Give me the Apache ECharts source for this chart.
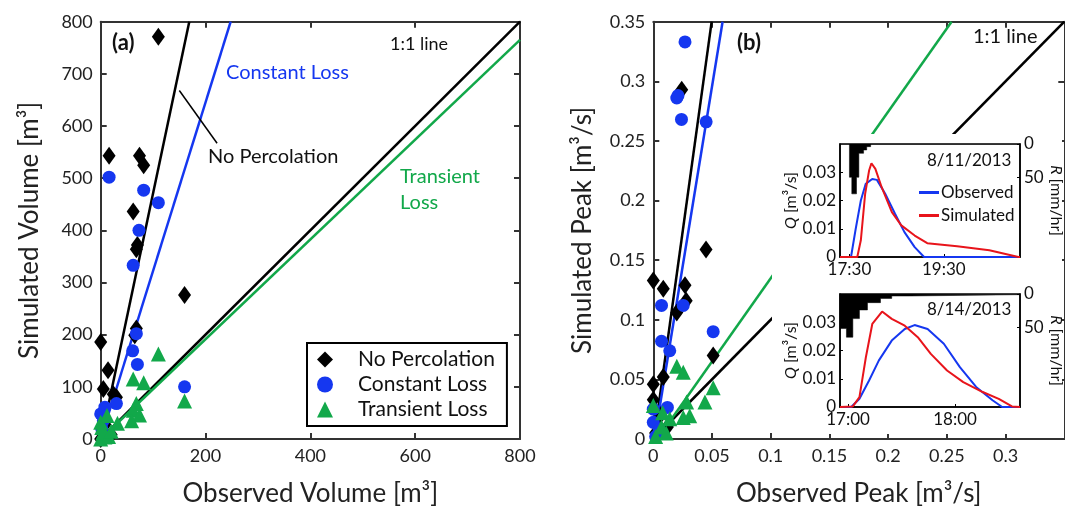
<!DOCTYPE html>
<html>
<head>
    <meta charset="utf-8">
    <title>Volume and peak</title>
    <script src="https://cdn.jsdelivr.net/npm/echarts@6/dist/echarts.min.js"></script>
</head>
<body style="margin:0">
    <div id="main" style="width:1065px;height:512px;"></div>
    <script type="text/javascript">
        // panel (a): observed vs simulated volume [m3]
        var volNoPerc = [[110,771],[16,543],[74,543],[82,525],[62,436],[68,364],[70,372],[160,276],[0,186],[65,199],[68,212],[14,132],[5,96],[24,86],[30,80],[0,0],[3,15],[8,28],[20,8]];
        var volConst = [[16,502],[82,477],[110,453],[73,400],[62,333],[68,202],[61,169],[70,143],[160,100],[30,68],[0,48],[8,61],[2,20],[8,8],[5,35]];
        var volTrans = [[110,163],[62,115],[82,108],[160,73],[68,68],[62,55],[74,46],[59,35],[32,30],[0,32],[12,45],[8,4],[0,0],[4,12],[15,5],[2,22],[20,15]];
        var volLineNoPerc = [[1,0],[169,800]];
        var volLineConst = [[0,0],[248,800]];
        var volLineTrans = [[0,0],[800,765]];
        var volOneToOne = [[0,0],[800,800]];
        var volLeader = [[150,668],[222,567]];

        // panel (b): observed vs simulated peak [m3/s]
        var pkNoPerc = [[0.0242,0.293],[0.0449,0.159],[0,0.133],[0.0085,0.126],[0.027,0.129],[0.028,0.116],[0.02,0.106],[0.051,0.07],[0,0.046],[0.0085,0.052],[0,0.033],[0.002,0.005],[0.006,0.02],[0.012,0.01]];
        var pkConst = [[0.027,0.333],[0.02,0.286],[0.021,0.288],[0.024,0.268],[0.045,0.266],[0.007,0.112],[0.0255,0.112],[0.051,0.09],[0.007,0.082],[0.014,0.074],[0.012,0.0265],[0,0.025],[0,0.014],[0.005,0.008],[0.002,0.002]];
        var pkTrans = [[0.02,0.061],[0.0255,0.056],[0.0284,0.031],[0.051,0.043],[0.044,0.031],[0.031,0.0195],[0.0255,0.018],[0,0.028],[0.008,0.022],[0.014,0.017],[0.007,0.01],[0.011,0.005],[0.002,0.002]];
        var pkLineNoPerc = [[0.0006,0],[0.0497,0.35]];
        var pkLineConst = [[0.001,0],[0.059,0.35]];
        var pkLineTrans = [[0.0035,0],[0.254,0.35]];
        var pkOneToOne = [[0,0],[0.35,0.35]];

        // insets: time in minutes after midnight, Q [m3/s], R [mm/hr]
        var ev1Obs = [[1038,0],[1052,0],[1058,0.010],[1064.5,0.020],[1070.7,0.0259],[1079,0.0276],[1085,0.0273],[1095.5,0.0224],[1108,0.0153],[1120,0.0088],[1133,0.0035],[1145,0],[1267,0]];
        var ev1Sim = [[1038,0],[1060,0],[1064.5,0.0059],[1070,0.0224],[1075,0.0306],[1078,0.0332],[1083,0.0312],[1091,0.0247],[1104,0.0159],[1116,0.0112],[1133,0.0076],[1149,0.0049],[1187,0.0038],[1228,0.0024],[1265,0],[1267,0]];
        var ev1Rain = [[1038,0],[1050,50],[1053,75],[1059,50],[1062,14],[1068,9],[1072,4],[1077,0],[1267,0]];
        var ev1Ticks = [1050, 1170];

        var ev2Obs = [[1015.5,0],[1021.8,0],[1026.4,0.0029],[1031.8,0.0094],[1037.3,0.0165],[1044.5,0.0235],[1051.8,0.0276],[1057.3,0.029],[1064.6,0.0276],[1073.7,0.0224],[1082.7,0.0141],[1091.8,0.0071],[1101,0.0024],[1106.4,0],[1116.4,0]];
        var ev2Sim = [[1015.5,0],[1022.7,0.0002],[1026.4,0.0035],[1030,0.0176],[1033.6,0.0294],[1039.1,0.0338],[1044.5,0.0312],[1051.8,0.0288],[1059.1,0.0247],[1066.4,0.0188],[1075.5,0.0129],[1084.6,0.0088],[1095.5,0.0053],[1104.5,0.0029],[1111.9,0.0002],[1116.4,0]];
        var ev2Rain = [[1015.5,52],[1019.1,65],[1022.7,37],[1026.4,24],[1030.9,13],[1038.2,6.6],[1044.5,3],[1054.6,1],[1116.4,1]];
        var ev2Ticks = [1020, 1080];

        var BLACK = '#000', BLUE = '#1537f0', GREEN = '#12a84a', RED = '#e8141b';
        var FONT = 'Lato';
        var myChart = echarts.init(document.getElementById('main'));

        function hhmm(v) {
            var h = Math.floor(v / 60), m = Math.round(v % 60);
            return h + ':' + (m < 10 ? '0' : '') + m;
        }

        function mainAxis(o) {
            return Object.assign({
                type: 'value',
                axisLine: {onZero: false, lineStyle: {color: '#333', width: 2}},
                axisTick: {inside: true, length: 6, lineStyle: {color: '#333', width: 2}},
                axisLabel: {fontFamily: FONT, fontSize: 18, color: '#222', margin: 8},
                splitLine: {show: false},
                nameTextStyle: {fontFamily: FONT, fontSize: 26, color: '#222'},
                nameLocation: 'middle'
            }, o);
        }
        function boxAxis(o) {
            return Object.assign(mainAxis(o), {axisLabel: {show: false}});
        }
        function insetAxis(o) {
            return Object.assign({
                type: 'value', z: 6,
                axisLine: {onZero: false, lineStyle: {color: '#000', width: 1.5}},
                axisTick: {inside: true, length: 3, lineStyle: {color: '#000'}},
                axisLabel: {fontFamily: FONT, fontSize: 17, color: '#111', margin: 4},
                splitLine: {show: false},
                nameLocation: 'middle',
                nameTextStyle: {fontFamily: FONT, fontSize: 16, color: '#111', rich: {i: {fontFamily: FONT, fontSize: 16, fontStyle: 'italic'}}}
            }, o);
        }
        function scatter(name, data, symbol, size, color, xi, yi) {
            return {type: 'scatter', name: name, data: data, symbol: symbol, symbolSize: size,
                itemStyle: {color: color, opacity: 1}, xAxisIndex: xi, yAxisIndex: yi, z: 3, silent: true};
        }
        function fit(data, color, xi, yi, w) {
            return {type: 'line', data: data, symbol: 'none', lineStyle: {color: color, width: w || 2.5},
                xAxisIndex: xi, yAxisIndex: yi, z: 2, silent: true, clip: true};
        }
        function flow(name, data, color, xi, yi) {
            return {type: 'line', name: name, data: data, symbol: 'none', lineStyle: {color: color, width: 2},
                itemStyle: {color: color}, xAxisIndex: xi, yAxisIndex: yi, z: 8, silent: true};
        }
        function rain(data, xi, yi) {
            return {type: 'line', data: data, step: 'end', symbol: 'none', lineStyle: {color: '#000', width: 0.5},
                areaStyle: {color: '#000', opacity: 1, origin: 'start'}, xAxisIndex: xi, yAxisIndex: yi, z: 7, silent: true};
        }
        function txt(x, y, s, size, color, weight) {
            return {type: 'text', left: x, top: y, z: 20,
                style: {text: s, fontFamily: FONT, fontSize: size, fill: color || '#111', fontWeight: weight || 'normal'}};
        }

        var option = {
            animation: false,
            backgroundColor: '#fff',
            grid: [
                {left: 100.7, top: 21.7, width: 419.3, height: 418.3},
                {left: 653.3, top: 21.7, width: 411, height: 418.3},
                {left: 840, top: 144, width: 185, height: 113, z: 5, show: true, backgroundColor: '#fff', borderColor: '#000', borderWidth: 1.5},
                {left: 840, top: 294, width: 185, height: 113, z: 5, show: true, backgroundColor: '#fff', borderColor: '#000', borderWidth: 1.5}
            ],
            xAxis: [
                mainAxis({gridIndex: 0, min: 0, max: 800, interval: 200, name: 'Observed Volume [m³]', nameGap: 42}),
                boxAxis({gridIndex: 0, position: 'top', min: 0, max: 800, interval: 200}),
                mainAxis({gridIndex: 1, min: 0, max: 0.35, interval: 0.05, name: 'Observed Peak [m³/s]', nameGap: 42,
                    axisLabel: {fontFamily: FONT, fontSize: 18, color: '#222', margin: 8, showMaxLabel: false}}),
                boxAxis({gridIndex: 1, position: 'top', min: 0, max: 0.35, interval: 0.05}),
                insetAxis({gridIndex: 2, min: 1038, max: 1267,
                    axisLabel: {fontFamily: FONT, fontSize: 17, color: '#111', margin: 4, customValues: ev1Ticks, formatter: hhmm},
                    axisTick: {inside: true, length: 3, customValues: ev1Ticks}}),
                insetAxis({gridIndex: 3, min: 1015.5, max: 1116.4,
                    axisLabel: {fontFamily: FONT, fontSize: 17, color: '#111', margin: 4, customValues: ev2Ticks, formatter: hhmm},
                    axisTick: {inside: true, length: 3, customValues: ev2Ticks}})
            ],
            yAxis: [
                mainAxis({gridIndex: 0, min: 0, max: 800, interval: 100, name: 'Simulated Volume [m³]', nameGap: 58}),
                boxAxis({gridIndex: 0, position: 'right', min: 0, max: 800, interval: 100}),
                mainAxis({gridIndex: 1, min: 0, max: 0.35, interval: 0.05, name: 'Simulated Peak [m³/s]', nameGap: 58}),
                boxAxis({gridIndex: 1, position: 'right', min: 0, max: 0.35, interval: 0.05}),
                insetAxis({gridIndex: 2, min: 0, max: 0.04, interval: 0.01, name: '{i|Q} [m³/s]', nameGap: 40,
                    axisLabel: {fontFamily: FONT, fontSize: 17, color: '#111', margin: 4, showMaxLabel: false}}),
                insetAxis({gridIndex: 2, position: 'right', inverse: true, min: 0, max: 170, name: '{i|R} [mm/hr]', nameGap: 28, nameRotate: -90,
                    axisLabel: {fontFamily: FONT, fontSize: 17, color: '#111', margin: 4, customValues: [0, 50]},
                    axisTick: {inside: true, length: 3, customValues: [0, 50]}}),
                insetAxis({gridIndex: 3, min: 0, max: 0.04, interval: 0.01, name: '{i|Q} [m³/s]', nameGap: 40,
                    axisLabel: {fontFamily: FONT, fontSize: 17, color: '#111', margin: 4, showMaxLabel: false}}),
                insetAxis({gridIndex: 3, position: 'right', inverse: true, min: 0, max: 170, name: '{i|R} [mm/hr]', nameGap: 28, nameRotate: -90,
                    axisLabel: {fontFamily: FONT, fontSize: 17, color: '#111', margin: 4, customValues: [0, 50]},
                    axisTick: {inside: true, length: 3, customValues: [0, 50]}})
            ],
            legend: [
                {data: ['No Percolation', 'Constant Loss', 'Transient Loss'], orient: 'vertical', left: 307, top: 343,
                    itemWidth: 16, itemHeight: 16, itemGap: 4, padding: [6, 12, 6, 10],
                    borderColor: '#000', borderWidth: 2, backgroundColor: '#fff',
                    textStyle: {fontFamily: FONT, fontSize: 21, color: '#111', padding: [0, 0, 0, 20]}, selectedMode: false},
                {data: ['Observed', 'Simulated'], orient: 'vertical', left: 919, top: 184,
                    icon: 'rect', itemWidth: 20, itemHeight: 3, itemGap: 6, padding: 0, z: 9,
                    textStyle: {fontFamily: FONT, fontSize: 17, color: '#111', padding: [0, 0, 0, -3]}, selectedMode: false}
            ],
            graphic: [
                {type: 'rect', shape: {x: 772, y: 134, width: 290, height: 300}, style: {fill: '#fff'}, z: 4, silent: true},
                txt(112, 32, '(a)', 22, '#111', 'bold'),
                txt(390, 35, '1:1 line', 18),
                txt(226, 63, 'Constant Loss', 20, BLUE),
                txt(208, 147, 'No Percolation', 20),
                txt(400, 167, 'Transient', 20, GREEN),
                txt(400, 193, 'Loss', 20, GREEN),
                txt(737, 32, '(b)', 22, '#111', 'bold'),
                txt(973, 27, '1:1 line', 20),
                txt(927, 152, '8/11/2013', 17),
                txt(927, 301, '8/14/2013', 17)
            ],
            series: [
                fit(volLineNoPerc, BLACK, 0, 0),
                fit(volLineConst, BLUE, 0, 0),
                fit(volOneToOne, BLACK, 0, 0),
                fit(volLineTrans, GREEN, 0, 0),
                fit(volLeader, BLACK, 0, 0, 1.5),
                scatter('No Percolation', volNoPerc, 'diamond', [13, 18], BLACK, 0, 0),
                scatter('Constant Loss', volConst, 'circle', 13, BLUE, 0, 0),
                scatter('Transient Loss', volTrans, 'triangle', 15, GREEN, 0, 0),

                fit(pkLineNoPerc, BLACK, 2, 2),
                fit(pkLineConst, BLUE, 2, 2),
                fit(pkOneToOne, BLACK, 2, 2),
                fit(pkLineTrans, GREEN, 2, 2),
                scatter('No Percolation', pkNoPerc, 'diamond', [13, 18], BLACK, 2, 2),
                scatter('Constant Loss', pkConst, 'circle', 13, BLUE, 2, 2),
                scatter('Transient Loss', pkTrans, 'triangle', 15, GREEN, 2, 2),

                rain(ev1Rain, 4, 5),
                flow('Observed', ev1Obs, BLUE, 4, 4),
                flow('Simulated', ev1Sim, RED, 4, 4),
                rain(ev2Rain, 5, 7),
                flow('Observed', ev2Obs, BLUE, 5, 6),
                flow('Simulated', ev2Sim, RED, 5, 6)
            ]
        };

        myChart.setOption(option);
    </script>
</body>
</html>
